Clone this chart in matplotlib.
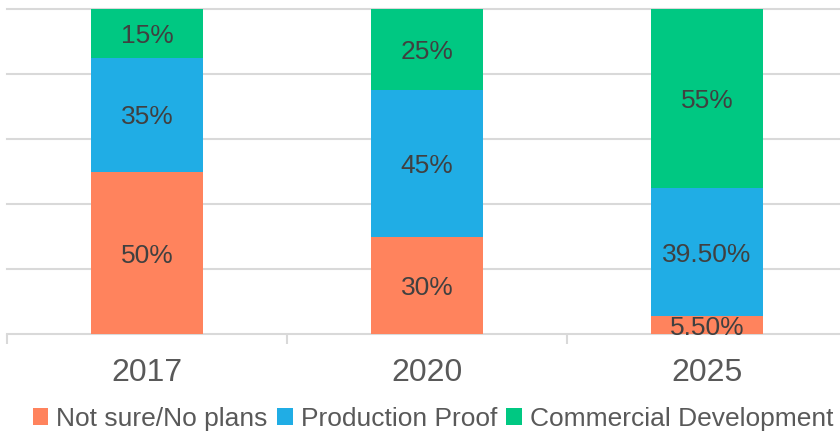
import matplotlib
matplotlib.use("Agg")
import matplotlib.pyplot as plt
import numpy as np
from matplotlib.patches import Patch

years = ["2017", "2020", "2025"]
not_sure = [50, 30, 5.5]
production = [35, 45, 39.5]
commercial = [15, 25, 55]
labels_not_sure = ["50%", "30%", "5.50%"]
labels_production = ["35%", "45%", "39.50%"]
labels_commercial = ["15%", "25%", "55%"]
series_names = ["Not sure/No plans", "Production Proof", "Commercial Development"]
colors = ["#FF835D", "#20ADE5", "#00C882"]

plt.rcParams['font.family'] = ['Liberation Sans', 'DejaVu Sans']

fig = plt.figure(figsize=(8.4, 4.32), dpi=100)
W, H = 840, 432
ax = fig.add_axes([7 / W, (H - 334) / H, 840 / W, 325 / H])

x = np.arange(len(years))
bottom = np.zeros(len(years))
for vals, labs, c in zip([not_sure, production, commercial],
                         [labels_not_sure, labels_production, labels_commercial], colors):
    ax.bar(x, vals, width=0.4, bottom=bottom, color=c, zorder=3)
    for xi, b, v, lab in zip(x, bottom, vals, labs):
        ax.annotate(lab, (xi, b + v / 2), xytext=(0, -2), textcoords='offset points',
                    ha='center', va='center', fontsize=19, color='#404040', zorder=4)
    bottom = bottom + np.array(vals)

ax.set_xlim(-0.5, 2.5)
ax.set_ylim(0, 100)
for gy in [20, 40, 60, 80, 100]:
    ax.axhline(gy, color='#D9D9D9', lw=1.5, zorder=1, clip_on=False)

for s in ['top', 'right', 'left']:
    ax.spines[s].set_visible(False)
ax.spines['bottom'].set_color('#D9D9D9')
ax.spines['bottom'].set_linewidth(1.5)
ax.set_yticks([])
ax.set_xticks([-0.5, 0.5, 1.5, 2.5])
ax.set_xticklabels([])
ax.tick_params(axis='x', length=7.5, width=1.5, color='#D9D9D9')
ax.set_xticks(x, minor=True)
ax.set_xticklabels(years, minor=True, fontsize=23, color='#595959')
ax.tick_params(axis='x', which='minor', length=0, pad=17)

handles = [Patch(facecolor=c, edgecolor='none') for c in colors]
fig.legend(handles, series_names, loc='center', bbox_to_anchor=(433 / W, (H - 419) / H),
           ncol=3, frameon=False, fontsize=19, labelcolor='#595959',
           handlelength=0.6, handleheight=0.6, handletextpad=0.3, columnspacing=0.35,
           borderaxespad=0, borderpad=0)

fig.savefig("out.png", dpi=100)
